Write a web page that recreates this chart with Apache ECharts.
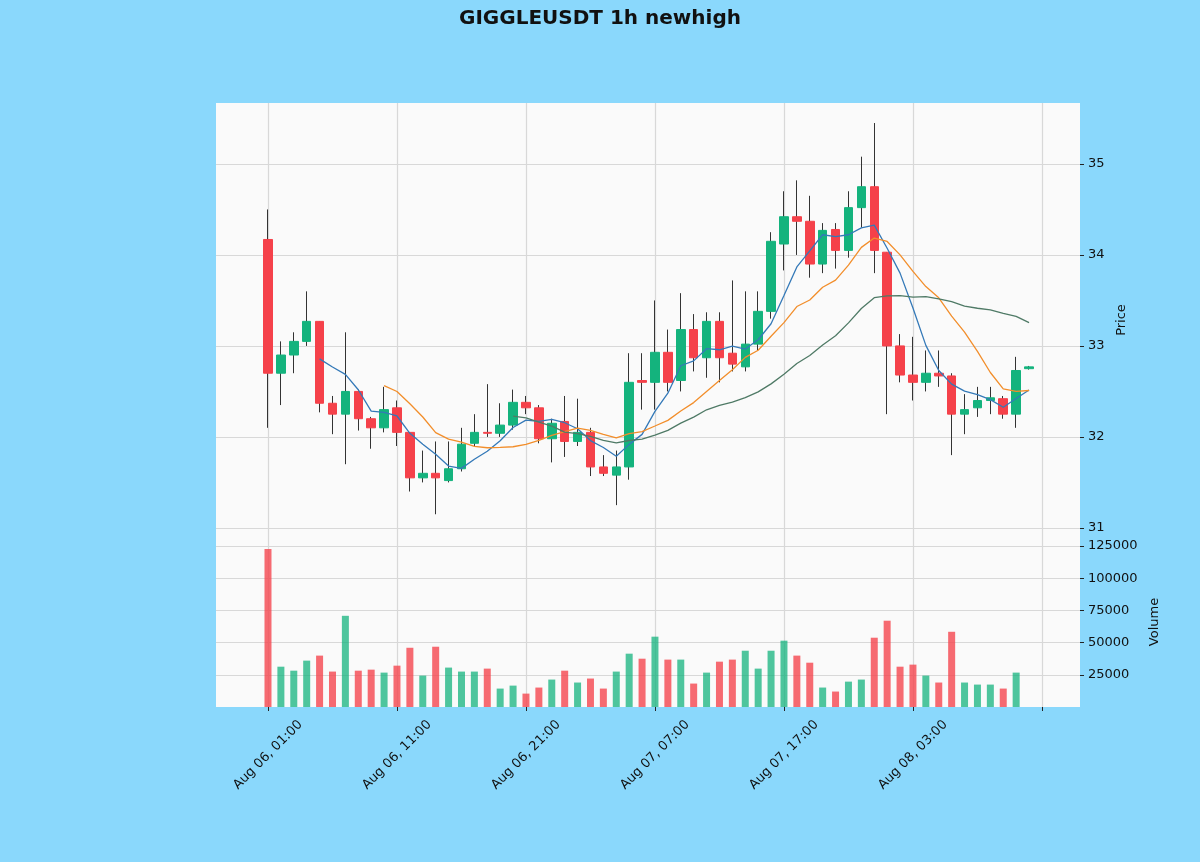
<!DOCTYPE html>
<html>
<head>
<meta charset="utf-8">
<title>GIGGLEUSDT 1h newhigh</title>
<script src="https://cdn.jsdelivr.net/npm/echarts@6.0.0/dist/echarts.min.js"></script>
<style>
  html, body { margin: 0; padding: 0; background: #8AD8FC; }
  #chart { width: 1200px; height: 862px; }
</style>
</head>
<body>
<div id="chart"></div>
<script>
// hourly candles, Aug 06 01:00 onwards
var opens = [34.17, 32.70, 32.90, 33.05, 33.27, 32.37, 32.25, 32.50, 32.20, 32.10,
  32.32, 32.05, 31.55, 31.60, 31.52, 31.65, 31.93, 32.05, 32.04, 32.13,
  32.38, 32.32, 31.98, 32.17, 31.95, 32.05, 31.67, 31.58, 31.67, 32.62,
  32.60, 32.93, 32.62, 33.18, 32.87, 33.27, 32.92, 32.77, 33.02, 33.38,
  34.12, 34.42, 34.37, 33.90, 34.28, 34.05, 34.52, 34.75, 34.03, 33.00,
  32.68, 32.60, 32.70, 32.67, 32.25, 32.32, 32.40, 32.42, 32.25, 32.75];
var closes = [32.70, 32.90, 33.05, 33.27, 32.37, 32.25, 32.50, 32.20, 32.10, 32.30,
  32.05, 31.55, 31.60, 31.55, 31.65, 31.92, 32.05, 32.04, 32.13, 32.38,
  32.32, 31.98, 32.15, 31.95, 32.05, 31.67, 31.60, 31.67, 32.60, 32.60,
  32.93, 32.60, 33.18, 32.87, 33.27, 32.87, 32.80, 33.02, 33.38, 34.15,
  34.42, 34.37, 33.90, 34.27, 34.05, 34.52, 34.75, 34.05, 33.00, 32.68,
  32.60, 32.70, 32.67, 32.25, 32.30, 32.40, 32.43, 32.25, 32.73, 32.77];
var highs = [34.50, 33.05, 33.15, 33.60, 33.27, 32.45, 33.15, 32.52, 32.22, 32.55,
  32.40, 32.05, 31.85, 31.95, 31.95, 32.10, 32.25, 32.58, 32.37, 32.52,
  32.45, 32.35, 32.20, 32.45, 32.42, 32.10, 31.80, 31.85, 32.92, 32.92,
  33.50, 33.18, 33.58, 33.35, 33.37, 33.37, 33.72, 33.60, 33.60, 34.25,
  34.70, 34.82, 34.65, 34.35, 34.35, 34.70, 35.08, 35.45, 34.03, 33.13,
  33.10, 32.95, 32.95, 32.70, 32.47, 32.55, 32.55, 32.45, 32.88, 32.78];
var lows = [32.10, 32.35, 32.70, 33.00, 32.27, 32.03, 31.70, 32.07, 31.87, 32.05,
  31.90, 31.40, 31.50, 31.15, 31.50, 31.62, 31.90, 32.00, 32.00, 32.08,
  32.25, 31.93, 31.72, 31.78, 31.90, 31.57, 31.57, 31.25, 31.53, 32.30,
  32.30, 32.50, 32.50, 32.72, 32.65, 32.60, 32.72, 32.72, 32.95, 33.30,
  33.83, 34.00, 33.75, 33.80, 33.85, 33.97, 34.30, 33.80, 32.25, 32.60,
  32.40, 32.50, 32.55, 31.80, 32.03, 32.22, 32.25, 32.20, 32.10, 32.74];
var volumes = [122700, 31300, 28200, 36000, 39900, 27500, 70800, 28200, 29000, 26700,
  32100, 46000, 24400, 46800, 30600, 27500, 27500, 29800, 14300, 16600,
  10400, 15100, 21300, 28200, 19000, 22100, 14300, 27500, 41400, 37500,
  54600, 36800, 36800, 18200, 26700, 35200, 36800, 43700, 29800, 43700,
  51500, 39900, 34400, 15100, 12000, 19700, 21300, 53800, 67000, 31300,
  32900, 24400, 19000, 58400, 19000, 17400, 17400, 14300, 26700, 0];
var maPeriods = [5, 10, 20];
var tickIdx = [0, 10, 20, 30, 40, 50, 60];
var tickLabels = ['Aug 06, 01:00', 'Aug 06, 11:00', 'Aug 06, 21:00', 'Aug 07, 07:00',
  'Aug 07, 17:00', 'Aug 08, 03:00', ''];
var priceTicks = [31, 32, 33, 34, 35];
var volTicks = [25000, 50000, 75000, 100000, 125000];

var UP = '#14B37D', DOWN = '#F5414A';
var maColors = ['#3479B8', '#F28E2B', '#4F7A66'];
var font = 'DejaVu Sans';

// wick rows keep full range, body rows get clipped to open/close
var wickRows = [], bodyRows = [], volRows = [];
for (var i = 0; i < opens.length; i++) {
  wickRows.push([i, opens[i], closes[i], lows[i], highs[i]]);
  bodyRows.push([i, opens[i], closes[i],
    Math.min(opens[i], closes[i]), Math.max(opens[i], closes[i])]);
  volRows.push({
    value: [i, volumes[i]],
    itemStyle: { color: closes[i] >= opens[i] ? 'rgba(20,179,125,0.75)' : 'rgba(245,65,74,0.78)' }
  });
}

function movingAvg(n) {
  var out = [];
  for (var i = n - 1; i < closes.length; i++) {
    var s = 0;
    for (var j = i - n + 1; j <= i; j++) s += closes[j];
    out.push([i, s / n]);
  }
  return out;
}

var xMin = -4.03, xMax = 62.95;
var gridLine = { show: true, lineStyle: { color: '#D8D8D8', width: 1.2 } };

function xAxisFor(gi, showLabels) {
  return {
    type: 'value', gridIndex: gi, min: xMin, max: xMax,
    axisLine: { show: false, onZero: false },
    axisTick: { show: showLabels, customValues: tickIdx, length: 4, lineStyle: { color: '#222' } },
    axisLabel: {
      show: showLabels, customValues: tickIdx, rotate: 45, align: 'center', verticalAlign: 'middle',
      margin: 48, fontFamily: font, fontSize: 13, color: '#111',
      formatter: function (v) {
        var k = tickIdx.indexOf(Math.round(v));
        return k >= 0 ? tickLabels[k] : '';
      }
    },
    splitLine: gridLine
  };
}

function yAxisFor(gi, name, gap, lo, hi, ticks) {
  return {
    type: 'value', gridIndex: gi, position: 'right', min: lo, max: hi,
    name: name, nameLocation: 'middle', nameRotate: 90, nameGap: gap,
    nameTextStyle: { fontFamily: font, fontSize: 13, color: '#111' },
    axisLine: { show: false, onZero: false },
    axisTick: { show: true, customValues: ticks, length: 4, lineStyle: { color: '#222' } },
    axisLabel: {
      customValues: ticks, fontFamily: font, fontSize: 13, color: '#111', margin: 8,
      formatter: function (v) { return String(v); }
    },
    splitLine: gridLine
  };
}

var series = [
  {
    name: 'wick', type: 'candlestick', xAxisIndex: 0, yAxisIndex: 0,
    barWidth: 1, data: wickRows, encode: { x: 0, y: [1, 2, 3, 4] },
    itemStyle: { color: '#333', color0: '#333', borderColor: '#333', borderColor0: '#333', borderWidth: 1 },
    silent: true
  },
  {
    name: 'body', type: 'candlestick', xAxisIndex: 0, yAxisIndex: 0,
    barWidth: 9, data: bodyRows, encode: { x: 0, y: [1, 2, 3, 4] },
    itemStyle: { color: UP, color0: DOWN, borderColor: UP, borderColor0: DOWN, borderWidth: 1 }
  },
  {
    name: 'volume', type: 'bar', xAxisIndex: 1, yAxisIndex: 1,
    barWidth: 7, data: volRows
  }
];
maPeriods.forEach(function (p, k) {
  series.push({
    name: 'MA' + p, type: 'line', xAxisIndex: 0, yAxisIndex: 0,
    data: movingAvg(p), showSymbol: false, z: 5,
    lineStyle: { color: maColors[k], width: 1.3 }
  });
});

var chart = echarts.init(document.getElementById('chart'));
chart.setOption({
  backgroundColor: '#8AD8FC',
  animation: false,
  title: {
    text: 'GIGGLEUSDT 1h newhigh', left: 'center', top: 4,
    textStyle: { fontFamily: font, fontSize: 20, fontWeight: 'bold', color: '#111' }
  },
  grid: [
    { left: 216, right: 120, top: 103, height: 434, show: true, backgroundColor: '#FAFAFA', borderWidth: 0 },
    { left: 216, right: 120, top: 537, height: 170, show: true, backgroundColor: '#FAFAFA', borderWidth: 0 }
  ],
  xAxis: [xAxisFor(0, false), xAxisFor(1, true)],
  yAxis: [
    yAxisFor(0, 'Price', 34, 30.9, 35.67, priceTicks),
    yAxisFor(1, 'Volume', 66, 0, 132000, volTicks)
  ],
  series: series
});
</script>
</body>
</html>
